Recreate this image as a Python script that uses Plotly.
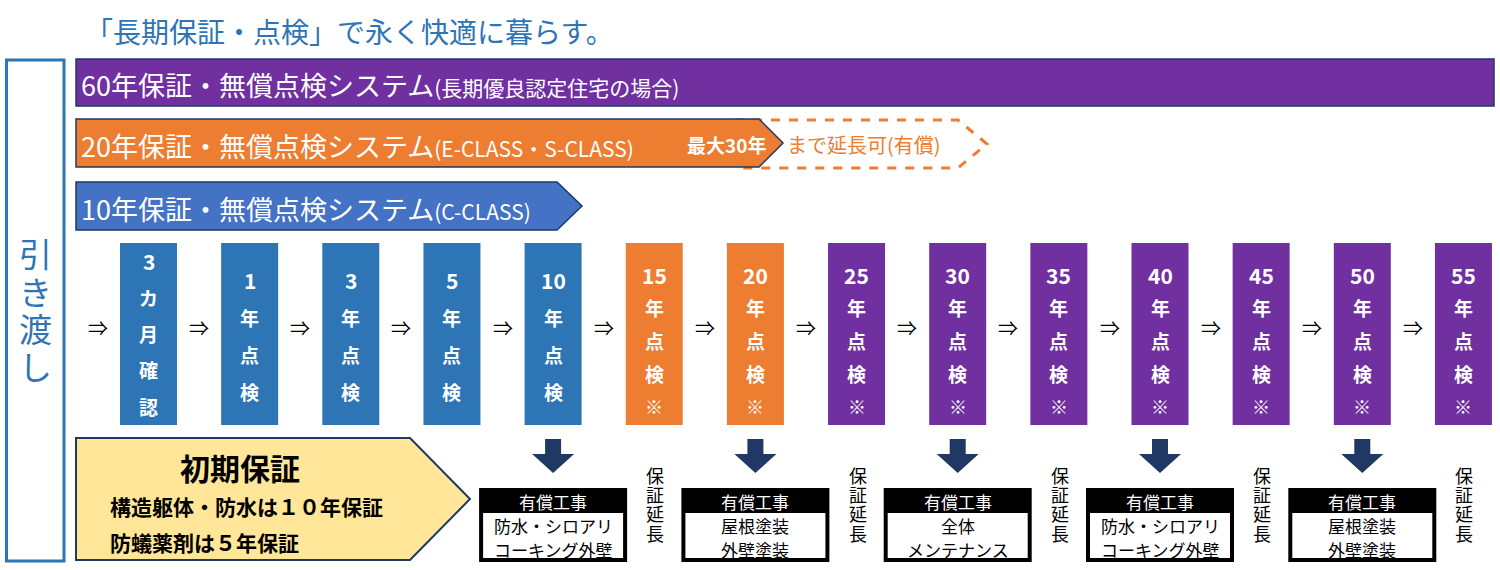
import plotly.graph_objects as go

# ---------------- data ----------------
title_text = "「長期保証・点検」で永く快適に暮らす。"
handover_label = "引き渡し"

plan_titles = ["60年保証・無償点検システム", "20年保証・無償点検システム", "10年保証・無償点検システム"]
plan_notes = ["(長期優良認定住宅の場合)", "(E-CLASS・S-CLASS)", "(C-CLASS)"]
extend_max = "最大30年"
extend_note = "まで延長可(有償)"

step_numbers = ["3", "1", "3", "5", "10", "15", "20", "25", "30", "35", "40", "45", "50", "55"]
step_units = ["カ月", "年", "年", "年", "年", "年", "年", "年", "年", "年", "年", "年", "年", "年"]
step_actions = ["確認", "点検", "点検", "点検", "点検", "点検", "点検", "点検", "点検", "点検", "点検", "点検", "点検", "点検"]
step_marks = ["", "", "", "", "", "※", "※", "※", "※", "※", "※", "※", "※", "※"]
step_tiers = ["C", "C", "C", "C", "C", "E", "E", "L", "L", "L", "L", "L", "L", "L"]
flow_arrow = "⇒"

initial_title = "初期保証"
initial_lines = ["構造躯体・防水は１０年保証", "防蟻薬剤は５年保証"]

paid_years = ["10", "20", "30", "40", "50"]
paid_header = "有償工事"
paid_line1 = ["防水・シロアリ", "屋根塗装", "全体", "防水・シロアリ", "屋根塗装"]
paid_line2 = ["コーキング外壁", "外壁塗装", "メンテナンス", "コーキング外壁", "外壁塗装"]

extension_years = ["15", "25", "35", "45", "55"]
extension_label = "保証延長"

# ---------------- style ----------------
FONT = "Noto Sans CJK JP"
C_TITLE = "#2E75B6"
C_PURPLE = "#7030A0"
C_ORANGE = "#ED7D31"
C_BLUEBAR = "#4472C4"
C_COLBLUE = "#2E75B6"
C_NAVY = "#1F3864"
C_YELLOW = "#FFE699"
tier_colors = {"C": C_COLBLUE, "E": C_ORANGE, "L": C_PURPLE}

W, H = 1500, 570
fig = go.Figure()
fig.add_trace(go.Scatter(x=[0, W], y=[0, H], mode="markers",
                         marker=dict(opacity=0), hoverinfo="skip", showlegend=False))

shapes = []
annotations = []


def txt(x, y, s, size, color="black", bold=False, xanchor="center"):
    annotations.append(dict(
        x=x, y=y, xref="x", yref="y", text=s, showarrow=False,
        xanchor=xanchor, yanchor="middle",
        font=dict(family=FONT, size=size, color=color, weight="bold" if bold else "normal"),
    ))


def pent(x0, x1, xp, y0, y1, fill, line_color, lw=1.5, dash=None, closed=True):
    ym = (y0 + y1) / 2
    p = f"M {x0},{y0} L {x1},{y0} L {xp},{ym} L {x1},{y1} L {x0},{y1}"
    if closed:
        p += " Z"
    shapes.append(dict(type="path", path=p, xref="x", yref="y",
                       fillcolor=fill, line=dict(color=line_color, width=lw, dash=dash)))


def rect(x0, y0, x1, y1, fill, line_color=None, lw=0):
    shapes.append(dict(type="rect", x0=x0, y0=y0, x1=x1, y1=y1, xref="x", yref="y",
                       fillcolor=fill, line=dict(color=line_color or fill, width=lw)))


# title
txt(83, 31, title_text, 28, C_TITLE, xanchor="left")

# handover box
rect(6.5, 60, 64, 561, "white", C_TITLE, 3)
for k, ch in enumerate(handover_label):
    txt(35, 253 + k * 37.5, ch, 33, C_TITLE)

# plan bars
rect(76, 59, 1494, 106, C_PURPLE, C_NAVY, 1.5)
pent(735, 958, 987, 120, 168, "rgba(0,0,0,0)", C_ORANGE, lw=3, dash="dash", closed=False)
pent(76, 759, 783, 119, 167, C_ORANGE, C_NAVY, 1.5)
pent(76, 557, 582, 182, 230, C_BLUEBAR, C_NAVY, 1.5)
plan_y = [84, 145, 208]
for t, n, y in zip(plan_titles, plan_notes, plan_y):
    txt(79, y, f"{t}<span style='font-size:21px'>{n}</span>", 27, "white", xanchor="left")
txt(726, 144, extend_max, 19, "white", bold=True)
txt(785, 144, extend_note, 20, C_ORANGE, xanchor="left")

# step columns
col_left0, col_pitch, col_w = 120, 101.15, 57
col_top, col_bot = 243, 425
centers = []
for i, num in enumerate(step_numbers):
    xl = col_left0 + i * col_pitch
    xc = xl + col_w / 2
    centers.append(xc)
    rect(xl, col_top, xl + col_w, col_bot, tier_colors[step_tiers[i]])
    txt(xl - 22, 327, flow_arrow, 20, "black")
    chars = [num] + list(step_units[i]) + list(step_actions[i]) + ([step_marks[i]] if step_marks[i] else [])
    if step_marks[i]:
        y0, dy = 275, 32.8
    elif len(chars) == 5:
        y0, dy = 261, 36.3
    else:
        y0, dy = 280, 37
    for k, ch in enumerate(chars):
        size = 21 if k == 0 else 19
        if ch == "※":
            size = 18
        txt(xc, y0 + k * dy, ch, size, "white", bold=True)

# initial warranty
shapes.append(dict(type="path", xref="x", yref="y",
                   path="M 76,438 L 410,438 L 470,499 L 410,560 L 76,560 Z",
                   fillcolor=C_YELLOW, line=dict(color=C_NAVY, width=2)))
txt(240, 467, initial_title, 30, "black", bold=True)
txt(108, 506, initial_lines[0], 21, "black", bold=True, xanchor="left")
txt(108, 542, initial_lines[1], 21, "black", bold=True, xanchor="left")

# paid works
for yr, l1, l2 in zip(paid_years, paid_line1, paid_line2):
    c = centers[step_numbers.index(yr, 4)]
    shapes.append(dict(type="path", xref="x", yref="y",
                       path=(f"M {c-8},439 L {c+8},439 L {c+8},454 L {c+21},454 L {c},473 "
                             f"L {c-21},454 L {c-8},454 Z"),
                       fillcolor=C_NAVY, line=dict(color=C_NAVY, width=0)))
    rect(c - 74, 488, c + 74, 562, "black")
    rect(c - 70, 513, c + 70, 558, "white")
    txt(c, 501, paid_header, 17, "white")
    txt(c, 525, l1, 17, "black")
    txt(c, 549, l2, 17, "black")

# warranty extension
for yr in extension_years:
    c = centers[step_numbers.index(yr, 4)]
    for k, ch in enumerate(extension_label):
        txt(c + 1, 475 + k * 19.2, ch, 18, "black")

fig.update_layout(
    width=W, height=H, margin=dict(l=0, r=0, t=0, b=0),
    paper_bgcolor="white", plot_bgcolor="white",
    xaxis=dict(range=[0, W], visible=False, fixedrange=True),
    yaxis=dict(range=[H, 0], visible=False, fixedrange=True),
    shapes=shapes, annotations=annotations, showlegend=False,
)
fig.write_html("out.html", config={"displayModeBar": False},
               post_script="document.body.style.margin='0';document.body.style.overflow='hidden';")
